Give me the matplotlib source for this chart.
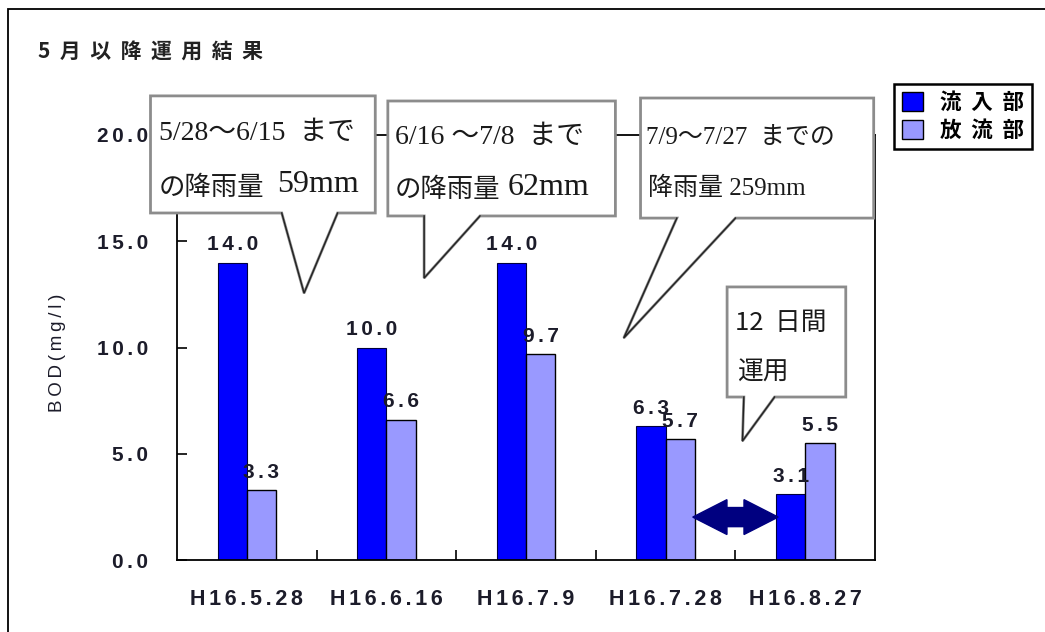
import matplotlib
matplotlib.use("Agg")
import matplotlib.pyplot as plt
from matplotlib.patches import Patch, Polygon, Rectangle

# ---------- данные ----------
dates = ["H16.5.28", "H16.6.16", "H16.7.9", "H16.7.28", "H16.8.27"]
inflow = [14.0, 10.0, 14.0, 6.3, 3.1]      # 流入部
outflow = [3.3, 6.6, 9.7, 5.7, 5.5]        # 放流部
series_names = ["流入部", "放流部"]
yticks = [0, 5, 10, 15, 20]
title = "5月以降運用結果"
ylabel = "BOD(mg/l)"
# ----------------------------

BLUE = "#0000ff"
LIGHT = "#9999ff"
SANS = ["Liberation Sans", "DejaVu Sans"]
JP = ["Noto Sans CJK JP", "DejaVu Sans"]
SERIF_JP = ["Liberation Serif", "Noto Sans CJK JP", "DejaVu Sans"]
TXT = "#1c1c2a"


def spaced(s, sep="\u2006"):
    # разреженный текст как в оригинале
    return sep.join(s)


fig = plt.figure(figsize=(10.45, 6.32), dpi=100)
ax = fig.add_axes([0.1694, 0.1139, 0.668, 0.6725])

x = list(range(len(dates)))
w = 0.21
ax.bar([i - w / 2 for i in x], inflow, width=w, color=BLUE, edgecolor="#000040", linewidth=0.8, zorder=2)
ax.bar([i + w / 2 for i in x], outflow, width=w, color=LIGHT, edgecolor="black", linewidth=1.0, zorder=2)

for i in x:
    for xv, v in ((i - w / 2, inflow[i]), (i + w / 2, outflow[i])):
        ax.annotate(spaced(f"{v:.1f}"), (xv, v), xytext=(0, 6), textcoords="offset points",
                    ha="center", va="bottom", fontsize=15, family=SANS,
                    fontweight="bold", color=TXT)

ax.set_xlim(-0.5, len(dates) - 0.5)
ax.set_ylim(0, 20)
ax.set_yticks(yticks)
ax.set_yticklabels([spaced(f"{t:.1f}") for t in yticks], family=SANS, fontsize=15,
                   fontweight="bold", color=TXT)
ax.set_xticks(x)
ax.set_xticklabels([spaced(d) for d in dates], family=SANS, fontsize=15.5,
                   fontweight="bold", color=TXT)
ax.set_xticks([i + 0.5 for i in x[:-1]], minor=True)
ax.tick_params(axis="x", which="major", length=0, pad=21)
ax.tick_params(axis="x", which="minor", direction="in", length=7, width=1.2)
ax.tick_params(axis="y", direction="in", length=7, width=1.2, pad=21)
for s in ax.spines.values():
    s.set_linewidth(1.3)
ax.set_ylabel(spaced(ylabel, "\u2009"), family=SANS, fontsize=13.5, color=TXT)
ax.yaxis.set_label_coords(-0.159, 0.487)

# двойная стрелка между H16.7.28 и H16.8.27
cx, cy = 3.5, 2.02
half, hl, sh, hh = 0.306, 0.245, 0.45, 0.82
arrow = [(cx - half, cy), (cx - half + hl, cy + hh), (cx - half + hl, cy + sh),
         (cx + half - hl, cy + sh), (cx + half - hl, cy + hh), (cx + half, cy),
         (cx + half - hl, cy - hh), (cx + half - hl, cy - sh), (cx - half + hl, cy - sh),
         (cx - half + hl, cy - hh)]
ax.add_patch(Polygon(arrow, closed=True, fc="#000080", ec="#000080", lw=1, zorder=3))


def callout(x0, x1, y0, y1, tl, tr, tip):
    # прямоугольная выноска с хвостиком (координаты данных)
    pts = [(x0, y1), (x1, y1), (x1, y0), (tr, y0), tip, (tl, y0), (x0, y0)]
    ax.add_patch(Polygon(pts, closed=True, fc="white", ec="#8c8c8c", lw=2,
                         clip_on=False, zorder=5))
    ax.plot([tl, tip[0], tr], [y0, tip[1], y0], color="#222222", lw=1,
            clip_on=False, zorder=6)


callout(-0.69, 0.92, 16.33, 21.84, 0.25, 0.65, (0.41, 12.56))
callout(1.01, 2.64, 16.19, 21.6, 1.27, 1.67, (1.27, 13.27))
callout(2.82, 4.49, 16.09, 21.74, 3.08, 3.50, (2.70, 10.45))
callout(3.44, 4.29, 7.67, 12.85, 3.56, 3.78, (3.55, 5.6))

tk = dict(va="center", ha="left", zorder=7, color="#1a1a1a", clip_on=False)
ax.text(-0.63, 20.09, "5/28～6/15  まで", family=SERIF_JP, fontsize=20, **tk)
ax.text(-0.63, 17.55, "の降雨量", family=JP, fontsize=19, **tk)
ax.text(0.215, 17.65, "59mm", family=SERIF_JP, fontsize=23, **tk)
ax.text(1.06, 19.9, "6/16 ～7/8  まで", family=SERIF_JP, fontsize=20, **tk)
ax.text(1.06, 17.45, "の降雨量", family=JP, fontsize=19, **tk)
ax.text(1.87, 17.55, "62mm", family=SERIF_JP, fontsize=23, **tk)
ax.text(2.86, 19.8, "7/9～7/27  までの", family=SERIF_JP, fontsize=18, **tk)
ax.text(2.87, 17.5, "降雨量 259mm", family=SERIF_JP, fontsize=18, **tk)
ax.text(3.50, 11.15, "12  日間", family=JP, fontsize=18.5, **tk)
ax.text(3.51, 8.8, "運用", family=JP, fontsize=18.5, **tk)

# заголовок
fig.text(38 / 1045, 1 - 52 / 632, "  ".join(title), family=JP, fontsize=15,
         fontweight="bold", va="center", ha="left", color="#222222")

# легенда
handles = [Patch(facecolor=BLUE, edgecolor="black", label="  ".join(series_names[0])),
           Patch(facecolor=LIGHT, edgecolor="black", label="  ".join(series_names[1]))]
leg = fig.legend(handles=handles, loc="upper left", bbox_to_anchor=(894 / 1045, 1 - 84 / 632),
                 borderaxespad=0, fancybox=False, framealpha=1, edgecolor="black",
                 handlelength=1.0, handleheight=1.0, handletextpad=0.8, borderpad=0.35,
                 labelspacing=0.35, prop={"family": JP, "size": 15.5, "weight": "bold"})
leg.get_frame().set_linewidth(1.8)

# рамка вокруг всего рисунка
fig.add_artist(Rectangle((8 / 1045, -0.02), 1.2, 1 - 9 / 632 + 0.02, transform=fig.transFigure,
                         fill=False, ec="black", lw=1.3))

fig.savefig("out.png", dpi=100)
